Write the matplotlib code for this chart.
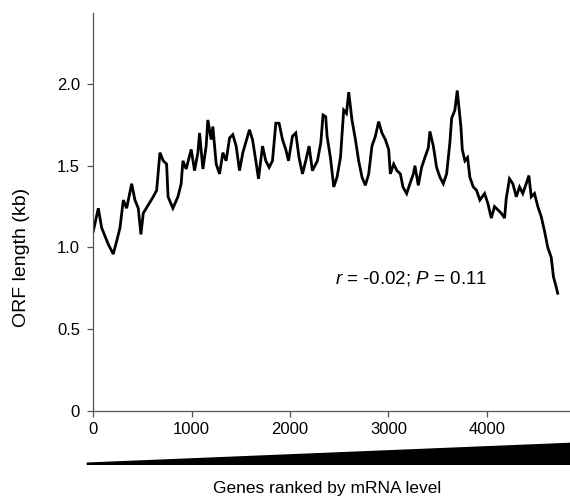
import matplotlib
matplotlib.use("Agg")
import matplotlib.pyplot as plt
from matplotlib.patches import Polygon

plt.rcParams['font.family'] = ['Liberation Sans', 'DejaVu Sans']
plt.rcParams['mathtext.fontset'] = 'custom'
plt.rcParams['mathtext.rm'] = 'Liberation Sans'
plt.rcParams['mathtext.it'] = 'Liberation Sans:italic'

# ---- data ----
genes = [0, 51, 85, 119, 152, 203, 238, 271, 305, 339, 390, 423, 457, 484, 508, 558, 609, 644, 677, 711,
         745, 760, 809, 860, 893, 911, 944, 995, 1029, 1063, 1080, 1114, 1147, 1164, 1198, 1215, 1249, 1283,
         1317, 1350, 1385, 1418, 1452, 1486, 1520, 1553, 1587, 1618, 1652, 1679, 1720, 1753, 1787, 1821,
         1855, 1888, 1923, 1956, 1984, 2024, 2058, 2091, 2126, 2159, 2193, 2227, 2278, 2312, 2335, 2362,
         2376, 2410, 2444, 2477, 2512, 2545, 2573, 2596, 2629, 2664, 2697, 2731, 2765, 2799, 2832, 2867,
         2900, 2934, 2968, 3002, 3019, 3053, 3086, 3121, 3147, 3185, 3218, 3253, 3269, 3303, 3337, 3370,
         3405, 3421, 3456, 3489, 3523, 3557, 3591, 3624, 3642, 3675, 3699, 3716, 3736, 3750, 3777, 3804,
         3827, 3862, 3895, 3929, 3977, 4010, 4045, 4078, 4112, 4146, 4180, 4197, 4230, 4264, 4299, 4332,
         4365, 4400, 4427, 4451, 4484, 4518, 4552, 4586, 4619, 4654, 4677, 4704, 4720]
orf_kb = [1.10, 1.24, 1.12, 1.07, 1.02, 0.96, 1.04, 1.12, 1.29, 1.24, 1.39, 1.29, 1.24, 1.08, 1.21, 1.26,
          1.31, 1.35, 1.58, 1.53, 1.51, 1.31, 1.24, 1.31, 1.39, 1.53, 1.48, 1.60, 1.47, 1.58, 1.70, 1.48,
          1.62, 1.78, 1.66, 1.74, 1.51, 1.45, 1.58, 1.53, 1.67, 1.69, 1.62, 1.47, 1.58, 1.65, 1.72, 1.66,
          1.53, 1.42, 1.62, 1.53, 1.49, 1.53, 1.76, 1.76, 1.66, 1.60, 1.53, 1.68, 1.70, 1.55, 1.45, 1.53,
          1.62, 1.47, 1.53, 1.64, 1.81, 1.80, 1.68, 1.55, 1.37, 1.43, 1.55, 1.84, 1.82, 1.95, 1.78, 1.66,
          1.53, 1.43, 1.38, 1.45, 1.62, 1.68, 1.77, 1.70, 1.66, 1.60, 1.45, 1.51, 1.47, 1.45, 1.37, 1.33,
          1.39, 1.45, 1.50, 1.38, 1.49, 1.55, 1.61, 1.71, 1.62, 1.49, 1.43, 1.39, 1.45, 1.64, 1.79, 1.84,
          1.96, 1.86, 1.74, 1.60, 1.53, 1.55, 1.43, 1.37, 1.35, 1.29, 1.33, 1.27, 1.18, 1.25, 1.23, 1.21,
          1.18, 1.30, 1.42, 1.39, 1.31, 1.37, 1.33, 1.39, 1.44, 1.31, 1.33, 1.25, 1.19, 1.10, 1.00, 0.94,
          0.82, 0.76, 0.72]
x_ticks = [0, 1000, 2000, 3000, 4000]
y_ticks = [0, 0.5, 1.0, 1.5, 2.0]
y_tick_labels = ['0', '0.5', '1.0', '1.5', '2.0']

W, H = 570, 498
fig = plt.figure(figsize=(W / 100, H / 100), dpi=100)

def fx(px):
    return px / W

def fy(py):
    return 1 - py / H

ax_left, ax_right, ax_top, ax_bottom = 93.3, 570, 13, 411
ax = fig.add_axes([fx(ax_left), fy(ax_bottom), fx(ax_right - ax_left), (ax_bottom - ax_top) / H])

ax.plot(genes, orf_kb, color='black', lw=2.0, solid_joinstyle='miter')

ax.set_xlim(0, 4845)
ax.set_ylim(0, 2.434)
ax.set_xticks(x_ticks)
ax.set_yticks(y_ticks)
ax.set_yticklabels(y_tick_labels)

spine_color = '#555555'
for s in ['top', 'right']:
    ax.spines[s].set_visible(False)
for s in ['left', 'bottom']:
    ax.spines[s].set_color(spine_color)
    ax.spines[s].set_linewidth(0.9)
ax.tick_params(axis='both', direction='out', colors=spine_color, labelcolor='black',
               labelsize=12, width=0.9)
ax.tick_params(axis='y', length=4.5, pad=5)
ax.tick_params(axis='x', length=4, pad=4)

fig.text(fx(22), fy(257), 'ORF length (kb)', fontsize=14, rotation=90,
         ha='center', va='center')

ax.text((335 - ax_left) / (ax_right - ax_left), (ax_bottom - 278) / (ax_bottom - ax_top),
        r'$r$ = -0.02; $P$ = 0.11', transform=ax.transAxes, fontsize=13.5,
        ha='left', va='center')

# wedge below axis
wedge = Polygon([(fx(86.7), fy(465)), (fx(570), fy(465)), (fx(570), fy(442.7)), (fx(86.7), fy(462.5))],
                closed=True, facecolor='black', edgecolor='none', transform=fig.transFigure)
fig.patches.append(wedge)

fig.text(fx(327), fy(488), 'Genes ranked by mRNA level', fontsize=12.5, ha='center', va='center')

fig.savefig('out.png', dpi=100)
